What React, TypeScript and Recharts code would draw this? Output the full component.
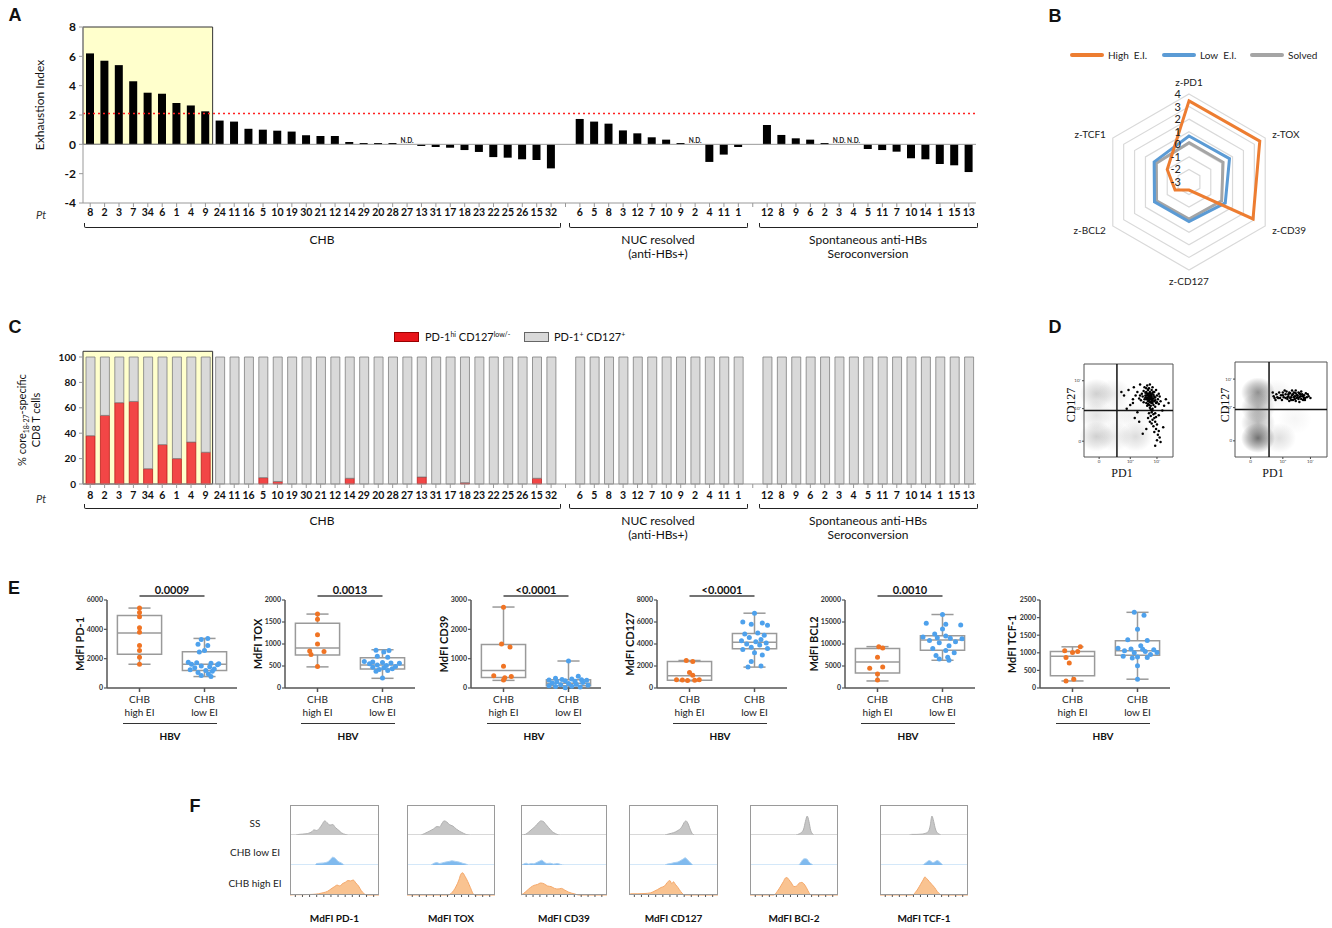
import React from 'react';
import {
  ComposedChart, Bar, XAxis, YAxis, ReferenceArea, ReferenceLine, Scatter, ScatterChart,
  RadarChart, Radar, PolarGrid, PolarAngleAxis, PolarRadiusAxis, AreaChart, Area,
} from 'recharts';

const FONT = 'Lato, "Open Sans", Arial, sans-serif';
const HEAD = '"Liberation Sans", Arial, sans-serif';
const SERIF = '"Liberation Serif", "DejaVu Serif", serif';

// ---------- Panel A / C data ----------
const chbPatients = ['8','2','3','7','34','6','1','4','9','24','11','16','5','10','19','30','21','12','14','29','20','28','27','13','31','17','18','23','22','25','26','15','32'];
const nucPatients = ['6','5','8','3','12','7','10','9','2','4','11','1'];
const spontPatients = ['12','8','9','6','2','3','4','5','11','7','10','14','1','15','13'];
const chbEI = [6.2,5.7,5.4,4.3,3.52,3.45,2.82,2.65,2.25,1.62,1.55,1.06,1.0,0.93,0.87,0.62,0.57,0.57,0.16,0.09,0.09,0.09,null,-0.11,-0.18,-0.23,-0.39,-0.52,-0.87,-0.91,-1.02,-1.07,-1.64];
const nucEI = [1.73,1.55,1.41,0.95,0.75,0.48,0.32,0.09,null,-1.2,-0.7,-0.18];
const spontEI = [1.32,0.64,0.41,0.32,0.09,null,null,-0.32,-0.39,-0.5,-0.95,-1.02,-1.34,-1.43,-1.89];
const chbPD1hi = [38,54,64,65,12,31,20,33,25,0,0,0,5,2,0,0,0,0,4.5,0,0,0,0,5.5,0,0,1,0,0,0,0,4.5,0];
const nucPD1hi = [0,0,0,0,0,0,0,0,0,0,0,0];
const spontPD1hi = [0,0,0,0,0,0,0,0,0,0,0,0,0,0,0];
const yTicksA = [-4,-2,0,2,4,6,8];
const yTicksC = [0,20,40,60,80,100];
const eiThreshold = 2.1;
const ndMarkY = 0.1;

type Row = { key: string; label: string; ei: number | null; nd: number | null; hi: number | null; rest: number | null };
const groupDefs = [
  { id: 'chb', patients: chbPatients, ei: chbEI, hi: chbPD1hi },
  { id: 'nuc', patients: nucPatients, ei: nucEI, hi: nucPD1hi },
  { id: 'sp', patients: spontPatients, ei: spontEI, hi: spontPD1hi },
];
const rows: Row[] = [];
groupDefs.forEach((g, gi) => {
  if (gi > 0) rows.push({ key: `gap${gi}`, label: '', ei: null, nd: null, hi: null, rest: null });
  g.patients.forEach((p, i) => {
    const h = g.hi[i];
    rows.push({
      key: `${g.id}-${i}`, label: p, ei: g.ei[i] as number | null,
      nd: g.ei[i] === null ? ndMarkY : null,
      hi: h > 0 ? h : null, rest: 100 - h,
    });
  });
});
const labelOf: Record<string, string> = {};
rows.forEach((r) => { labelOf[r.key] = r.label; });

// ---------- Panel B data ----------
const radarAxes = ['z-PD1', 'z-TOX', 'z-CD39', 'z-CD127', 'z-BCL2', 'z-TCF1'];
const highEIz = [3.45, 3.5, 2.88, -2.36, -1.72, -1.0];
const lowEIz = [0.66, 0.72, 0.33, 0.15, 0.17, 0.2];
const solvedZ = [0.13, 0.13, 0.0, -0.05, -0.02, 0.0];
const radarRows = radarAxes.map((a, i) => ({ axis: a, high: highEIz[i], low: lowEIz[i], solved: solvedZ[i] }));

// ---------- Panel D data (PD1 %, CD127 %) ----------
const flowLeftDots = [
  [70,70],[72,68],[74,66],[76,65],[73,63],[75,62],[77,61],[71,64],[69,66],[78,67],[80,64],[72,60],[74,59],[76,58],[79,60],[68,62],[66,65],[70,58],[73,56],[75,55],[78,56],[81,58],[83,62],[82,66],[79,70],[76,72],[73,74],[70,74],[67,71],[65,68],[63,66],[62,63],[64,61],[67,59],[71,55],[74,53],[77,52],[80,54],[84,57],[86,60],[85,65],[84,68],[81,72],[77,75],[74,78],[71,77],[68,75],[60,70],[58,66],[75,68],[77,69],[72,72],[69,69],[80,61],[82,59],[73,65],[75,64],[71,62],[78,63],[76,60],
  [72,66],[74,64],[76,67],[73,61],[75,59],[77,63],[70,62],[72,57],[79,65],[74,70],[71,68],[77,58],[74,62],[73,68],[75,66],[70,66],[78,70],[76,63],[72,63],[69,64],
  [76,48],[78,46],[75,44],[79,42],[77,40],[80,38],[76,36],[82,35],[78,33],[81,30],[84,28],[79,27],[83,24],[85,21],[82,18],[86,16],[80,12],[84,45],[73,47],[72,42],[88,50],[90,55],[74,38],[70,30],[66,25],[89,32],[77,50],[80,47],[75,51],[81,43],
  [55,58],[52,56],[48,52],[60,48],[57,42],[62,38],[42,70],[45,66],[50,72],[56,75],[63,78],[55,62],[92,62],[95,58],
];
const flowRightDots = [
  [42,64],[45,66],[47,62],[50,65],[52,68],[53,63],[55,66],[57,61],[58,64],[60,67],[61,63],[62,65],[63,60],[65,64],[66,67],[67,62],[68,65],[70,63],[71,66],[72,61],[73,64],[75,65],[76,62],[78,63],[44,60],[48,68],[51,60],[54,70],[56,69],[59,59],[62,70],[64,68],[66,59],[69,68],[72,69],[74,60],[77,67],[80,64],[82,62],[46,63],[49,62],[58,66],[60,62],[63,66],[65,61],[67,65],[69,61],[70,67],[73,66],[75,62],[57,63],[61,60],[64,63],[68,63],[71,64],[74,64],[55,62],[52,65],[59,68],[66,70],[70,58],[76,60],[41,68],[43,62],[79,66],
];
const flowLeftDensity = [[14,68,0.3],[14,45,0.18],[14,22,0.3],[34,68,0.14],[34,22,0.14],[58,22,0.22],[60,45,0.08],[40,45,0.08]];
const flowRightDensity = [[25,68,0.7],[25,52,0.5],[25,36,0.45],[25,20,0.9],[48,20,0.2],[45,66,0.1],[65,40,0.06]];
const flowTicks = [17, 52, 82];
const flowTickLabels = ['0', '10³', '10⁴'];

// ---------- Panel E data ----------
const eCategories = [['CHB', 'high EI'], ['CHB', 'low EI']];
const pd1Ticks = [0, 2000, 4000, 6000];
const pd1HighVals = [5450, 5150, 4850, 4100, 3800, 2900, 2550, 2100, 1620];
const pd1HighDx = [0, 0, 0, 0, 0, 0, 0, 0, 0];
const pd1LowVals = [3380, 3300, 2980, 2900, 2560, 2450, 1750, 1720, 1680, 1650, 1620, 1580, 1500, 1450, 1380, 1300, 1250, 1200, 1150, 1050, 950, 850, 780];
const pd1LowDx = [0.05, -0.05, -0.1, 0.05, 0, -0.08, -0.25, -0.12, 0.1, 0.22, -0.2, 0.2, -0.05, 0.08, -0.15, 0.15, -0.22, 0.02, 0.12, -0.1, 0.06, -0.05, 0.1];
const pd1HighBox = [1620, 2300, 3750, 4950, 5450];
const pd1LowBox = [780, 1200, 1620, 2470, 3380];

const toxTicks = [0, 500, 1000, 1500, 2000];
const toxHighVals = [1680, 1560, 1210, 1000, 840, 830, 760, 490];
const toxHighDx = [0, 0, 0, 0, -0.12, 0.1, -0.1, 0];
const toxLowVals = [860, 850, 820, 720, 700, 600, 590, 580, 570, 560, 550, 520, 510, 490, 470, 460, 440, 420, 400, 380, 230];
const toxLowDx = [-0.1, 0.1, 0.02, -0.08, 0.08, -0.28, -0.15, 0, 0.13, 0.26, -0.2, -0.08, 0.06, 0.2, -0.15, 0.02, 0.15, -0.05, 0.08, -0.1, 0];
const toxHighBox = [480, 750, 910, 1470, 1680];
const toxLowBox = [220, 430, 520, 690, 870];

const cd39Ticks = [0, 1000, 2000, 3000];
const cd39HighVals = [2750, 1500, 1400, 740, 420, 390, 350, 270];
const cd39HighDx = [0, -0.03, 0.1, 0, -0.15, 0.12, 0.02, 0];
const cd39LowVals = [920, 400, 330, 310, 290, 280, 270, 260, 250, 230, 210, 190, 170, 150, 130, 110, 90, 80, 60, 50, 30, 10];
const cd39LowDx = [0, 0.15, -0.2, 0.05, -0.1, 0.2, -0.3, 0.28, -0.05, 0.1, -0.18, 0.22, -0.25, 0, 0.12, -0.12, 0.3, -0.3, 0.05, -0.2, 0.18, -0.05];
const cd39HighBox = [260, 360, 600, 1480, 2760];
const cd39LowBox = [0, 80, 160, 280, 920];

const cd127Ticks = [0, 2000, 4000, 6000, 8000];
const cd127HighVals = [2500, 2420, 1400, 1150, 760, 720, 690, 700, 740];
const cd127HighDx = [-0.05, 0.05, 0, 0.05, -0.2, -0.11, -0.03, 0.08, 0.15];
const cd127LowVals = [6800, 6000, 5900, 5800, 5700, 5000, 4900, 4800, 4600, 4400, 4300, 4200, 4100, 4000, 3900, 3700, 3600, 3500, 3200, 3000, 2400, 2000, 1900];
const cd127LowDx = [0, -0.18, 0.12, -0.05, 0.2, 0.05, -0.15, 0.15, -0.08, 0.1, -0.2, 0.02, 0.18, -0.12, 0.08, -0.05, 0.2, -0.18, 0, 0.12, -0.05, 0.1, -0.1];
const cd127HighBox = [650, 700, 1120, 2400, 2500];
const cd127LowBox = [1900, 3560, 4150, 4950, 6800];

const bcl2Ticks = [0, 5000, 10000, 15000, 20000];
const bcl2HighVals = [9400, 9100, 7000, 4800, 4500, 3200, 1800];
const bcl2HighDx = [0.02, 0.08, 0, 0.08, -0.12, 0, 0];
const bcl2LowVals = [16700, 14700, 14500, 14300, 13400, 12300, 11800, 11600, 11400, 11300, 11200, 10800, 10500, 10300, 9600, 9000, 8500, 8000, 7400, 7000, 6600, 6300];
const bcl2LowDx = [0, -0.25, 0.05, 0.28, 0, -0.12, 0.05, -0.3, -0.08, 0.12, 0.3, -0.2, 0.2, -0.05, 0.1, -0.15, 0.05, 0.18, -0.1, 0.08, -0.05, 0.1];
const bcl2HighBox = [1600, 3400, 5900, 9000, 9400];
const bcl2LowBox = [6300, 8600, 10900, 11900, 16700];

const tcf1Ticks = [0, 500, 1000, 1500, 2000, 2500];
const tcf1HighVals = [1170, 1060, 1040, 1010, 870, 710, 250, 200];
const tcf1HighDx = [0.12, -0.12, 0.08, 0, -0.1, -0.05, 0.02, -0.1];
const tcf1LowVals = [2150, 2070, 1670, 1370, 1350, 1200, 1130, 1110, 1100, 1085, 1060, 1040, 1010, 1000, 950, 900, 880, 870, 850, 630, 250];
const tcf1LowDx = [-0.05, 0.1, 0, -0.15, 0.15, 0.05, -0.3, -0.1, 0.08, 0.25, -0.2, 0.12, 0.3, -0.05, 0.2, -0.22, 0, 0.15, -0.08, 0, 0];
const tcf1HighBox = [200, 350, 900, 1040, 1170];
const tcf1LowBox = [250, 930, 1060, 1340, 2150];

// ---------- Panel F data (x: % of panel width, h: fraction of row height) ----------
const pd1SSHist = [[0,0],[6,0],[10,0.02],[18,0.04],[24,0.1],[27,0.17],[30,0.15],[33,0.22],[36,0.35],[39,0.47],[42,0.4],[45,0.33],[48,0.35],[51,0.25],[55,0.15],[58,0.07],[62,0.02],[66,0],[100,0]];
const pd1LowHist = [[0,0],[28,0],[30,0.05],[34,0.06],[38,0.07],[42,0.1],[45,0.17],[48,0.26],[51,0.22],[54,0.12],[57,0.08],[60,0.02],[62,0],[100,0]];
const pd1HighHist = [[0,0],[5,0.01],[15,0.01],[25,0.02],[32,0.04],[38,0.08],[42,0.12],[46,0.2],[50,0.28],[53,0.33],[56,0.3],[59,0.38],[62,0.42],[65,0.48],[68,0.47],[71,0.5],[74,0.4],[77,0.3],[80,0.15],[83,0.05],[86,0],[100,0]];
const toxSSHist = [[0,0],[15,0],[20,0.05],[25,0.12],[30,0.2],[34,0.28],[37,0.27],[40,0.4],[42,0.47],[45,0.44],[48,0.35],[52,0.3],[56,0.2],[60,0.12],[64,0.06],[68,0.01],[72,0],[100,0]];
const toxLowHist = [[0,0],[27,0],[30,0.05],[34,0.08],[37,0.05],[40,0.07],[44,0.1],[48,0.12],[51,0.14],[55,0.12],[59,0.1],[63,0.06],[67,0.03],[70,0],[100,0]];
const toxHighHist = [[0,0],[47,0],[50,0.05],[53,0.15],[56,0.3],[59,0.5],[61,0.68],[63,0.74],[66,0.62],[69,0.45],[72,0.25],[75,0.05],[77,0],[100,0]];
const cd39SSHist = [[0,0],[5,0.02],[9,0.1],[13,0.2],[17,0.3],[20,0.4],[23,0.47],[26,0.45],[29,0.35],[32,0.25],[35,0.15],[38,0.08],[42,0.02],[46,0],[100,0]];
const cd39LowHist = [[0,0],[3,0.03],[6,0.06],[9,0.03],[12,0.05],[15,0.04],[18,0.08],[21,0.12],[24,0.16],[27,0.1],[30,0.05],[34,0.06],[38,0.03],[42,0.05],[46,0.02],[50,0],[100,0]];
const cd39HighHist = [[0,0],[3,0.05],[7,0.15],[11,0.25],[15,0.32],[19,0.35],[23,0.4],[27,0.37],[31,0.3],[35,0.28],[39,0.22],[43,0.2],[47,0.22],[51,0.16],[55,0.1],[59,0.06],[63,0.03],[67,0],[100,0]];
const cd127SSHist = [[0,0],[40,0],[44,0.03],[48,0.06],[52,0.1],[55,0.15],[58,0.22],[60,0.3],[62,0.42],[64,0.47],[66,0.4],[68,0.25],[70,0.1],[72,0.02],[74,0],[100,0]];
const cd127LowHist = [[0,0],[40,0],[43,0.03],[47,0.05],[51,0.08],[55,0.1],[58,0.15],[61,0.2],[63,0.24],[65,0.2],[67,0.13],[70,0.05],[72,0],[100,0]];
const cd127HighHist = [[0,0],[2,0.04],[10,0.04],[18,0.05],[24,0.07],[28,0.12],[32,0.18],[36,0.25],[40,0.3],[43,0.42],[46,0.48],[48,0.38],[50,0.44],[52,0.36],[55,0.25],[58,0.12],[61,0.02],[63,0],[100,0]];
const bcl2SSHist = [[0,0],[52,0],[56,0.04],[59,0.1],[61,0.2],[63,0.45],[65,0.63],[67,0.45],[69,0.15],[71,0.04],[73,0],[100,0]];
const bcl2LowHist = [[0,0],[55,0],[57,0.05],[59,0.14],[61,0.2],[63,0.21],[65,0.19],[67,0.1],[70,0.03],[72,0],[100,0]];
const bcl2HighHist = [[0,0],[27,0],[31,0.12],[35,0.3],[38,0.45],[40,0.56],[42,0.58],[44,0.52],[47,0.4],[50,0.28],[53,0.3],[56,0.4],[59,0.42],[61,0.38],[64,0.25],[67,0.08],[69,0.01],[71,0],[100,0]];
const tcf1SSHist = [[0,0],[33,0],[36,0.02],[42,0.02],[48,0.03],[52,0.06],[55,0.12],[57,0.3],[59,0.63],[61,0.45],[63,0.2],[65,0.08],[68,0.02],[70,0],[100,0]];
const tcf1LowHist = [[0,0],[48,0],[51,0.05],[54,0.12],[56,0.15],[58,0.12],[60,0.08],[62,0.1],[65,0.15],[67,0.12],[70,0.04],[72,0],[100,0]];
const tcf1HighHist = [[0,0],[37,0],[40,0.08],[43,0.2],[46,0.35],[49,0.5],[51,0.6],[53,0.55],[56,0.45],[59,0.35],[62,0.25],[65,0.12],[68,0.03],[70,0],[100,0]];
const histRowNames = ['SS', 'CHB low EI', 'CHB high EI'];

// ---------- helpers ----------
const Txt = ({ x, y, children, size = 12, weight = 400, anchor = 'middle', italic = false, family = FONT, color = '#111' }: any) => (
  <div style={{
    position: 'absolute', left: x, top: y,
    transform: `translate(${anchor === 'middle' ? '-50%' : anchor === 'end' ? '-100%' : '0'}, -50%)`,
    fontSize: size, fontWeight: weight, fontStyle: italic ? 'italic' : 'normal', fontFamily: family,
    whiteSpace: 'nowrap', lineHeight: 1.1, color,
  }}>{children}</div>
);
const VTxt = ({ x, y, children, size = 12, weight = 400, family = FONT }: any) => (
  <div style={{
    position: 'absolute', left: x, top: y, transform: 'translate(-50%, -50%) rotate(-90deg)',
    fontSize: size, fontWeight: weight, fontFamily: family, whiteSpace: 'nowrap', lineHeight: 1.15,
    color: '#111', textAlign: 'center',
  }}>{children}</div>
);
const Bracket = ({ x1, x2, y }: any) => (
  <div style={{
    position: 'absolute', left: x1, top: y - 5, width: x2 - x1, height: 5,
    borderLeft: '1.5px solid #222', borderRight: '1.5px solid #222', borderBottom: '1.5px solid #222',
    borderRadius: '0 0 2px 2px', boxSizing: 'border-box',
  }} />
);
const PanelLetter = ({ x, y, children }: any) => (
  <Txt x={x} y={y} size={18} weight={700} family={HEAD}>{children}</Txt>
);

const NDShape = (p: any) => {
  if (!p || !p.payload || p.payload.nd == null || !Number.isFinite(p.cy)) return <g />;
  return <text x={p.cx} y={p.cy} textAnchor="middle" fontSize={6.5} fontWeight={700} fill="#222" fontFamily={FONT}>N.D.</text>;
};

const catTickStyle = { fontSize: 10.5, fontWeight: 700, fill: '#111', fontFamily: FONT };

function GroupAnnotations({ yBr, yLab }: any) {
  return (
    <>
      <Bracket x1={84} x2={561} y={yBr} />
      <Bracket x1={569} x2={748} y={yBr} />
      <Bracket x1={759} x2={978} y={yBr} />
      <Txt x={322} y={yLab} size={12}>CHB</Txt>
      <Txt x={658} y={yLab} size={12}>NUC resolved</Txt>
      <Txt x={658} y={yLab + 14} size={12}>(anti-HBs+)</Txt>
      <Txt x={868} y={yLab} size={12}>Spontaneous anti-HBs</Txt>
      <Txt x={868} y={yLab + 14} size={12}>Seroconversion</Txt>
    </>
  );
}

function PanelA() {
  return (
    <>
      <div style={{ position: 'absolute', left: 0, top: 0 }}>
        <ComposedChart width={1000} height={260} data={rows} margin={{ top: 27, right: 24, bottom: 37, left: 43 }}>
          <ReferenceArea x1="chb-0" x2="chb-8" y1={0} y2={8} fill="#FFFFCC" fillOpacity={1} stroke="#333" strokeWidth={1} ifOverflow="visible" />
          <XAxis dataKey="key" interval={0} tickFormatter={(v: any) => labelOf[v] ?? ''} height={20} tickSize={4} tickMargin={2}
            tick={catTickStyle} axisLine={{ stroke: '#999' }} tickLine={{ stroke: '#999' }} />
          <YAxis domain={[-4, 8]} ticks={yTicksA} width={40} tickSize={4} tickMargin={3} interval={0}
            tick={{ fontSize: 12, fontWeight: 700, fill: '#111', fontFamily: FONT }} axisLine={{ stroke: '#999' }} tickLine={{ stroke: '#999' }} />
          <ReferenceLine y={0} stroke="#999" strokeWidth={1} />
          <ReferenceLine y={eiThreshold} stroke="#ff2020" strokeDasharray="2 3" strokeWidth={1.5} />
          <Bar dataKey="ei" fill="#000" barSize={8} isAnimationActive={false} />
          <Scatter dataKey="nd" shape={NDShape} isAnimationActive={false} />
        </ComposedChart>
      </div>
      <PanelLetter x={15} y={16}>A</PanelLetter>
      <VTxt x={40} y={105} size={12}>Exhaustion Index</VTxt>
      <Txt x={41} y={215} size={11} italic color="#333">Pt</Txt>
      <GroupAnnotations yBr={228} yLab={240} />
    </>
  );
}

function PanelC() {
  return (
    <>
      <div style={{ position: 'absolute', left: 0, top: 320 }}>
        <ComposedChart width={1000} height={240} data={rows} margin={{ top: 37, right: 24, bottom: 56, left: 43 }}>
          <ReferenceArea x1="chb-0" x2="chb-8" y1={0} y2={104.5} fill="#FFFFCC" fillOpacity={1} stroke="#333" strokeWidth={1} ifOverflow="visible" />
          <XAxis dataKey="key" interval={0} tickFormatter={(v: any) => labelOf[v] ?? ''} height={20} tickSize={4} tickMargin={4}
            tick={catTickStyle} axisLine={{ stroke: '#999' }} tickLine={{ stroke: '#999' }} />
          <YAxis domain={[0, 100]} ticks={yTicksC} width={40} tickSize={4} tickMargin={3} interval={0}
            tick={{ fontSize: 10, fontWeight: 700, fill: '#111', fontFamily: FONT }} axisLine={{ stroke: '#999' }} tickLine={{ stroke: '#999' }} />
          <Bar dataKey="hi" stackId="s" fill="#F24646" stroke="#B01010" strokeWidth={0.7} barSize={9} isAnimationActive={false} />
          <Bar dataKey="rest" stackId="s" fill="#D9D9D9" stroke="#7F7F7F" strokeWidth={0.8} barSize={9} isAnimationActive={false} />
        </ComposedChart>
      </div>
      <PanelLetter x={15} y={328}>C</PanelLetter>
      <VTxt x={29} y={420} size={11}>
        <div>% core<sub style={{ fontSize: 7 }}>18-27</sub>-specific</div>
        <div>CD8 T cells</div>
      </VTxt>
      <Txt x={41} y={499} size={11} italic color="#333">Pt</Txt>
      <GroupAnnotations yBr={509} yLab={521} />
      <div style={{ position: 'absolute', left: 394, top: 332, width: 23, height: 8, background: '#E8141A', border: '1px solid #900' }} />
      <Txt x={425} y={337} size={11} anchor="start">PD-1<sup style={{ fontSize: 7 }}>hi</sup> CD127<sup style={{ fontSize: 7 }}>low/-</sup></Txt>
      <div style={{ position: 'absolute', left: 524, top: 332, width: 23, height: 8, background: '#D9D9D9', border: '1px solid #666' }} />
      <Txt x={554} y={337} size={11} anchor="start">PD-1<sup style={{ fontSize: 7 }}>+</sup> CD127<sup style={{ fontSize: 7 }}>+</sup></Txt>
    </>
  );
}

const RadTick = (p: any) => (
  <text x={p.x - 8} y={p.y + 4} textAnchor="end" fontSize={11} fill="#222" fontFamily={FONT}>{p.payload?.value}</text>
);

function PanelB() {
  const leg = [
    { c: '#ED7D31', t: 'High  E.I.', x: 1070 },
    { c: '#5B9BD5', t: 'Low  E.I.', x: 1162 },
    { c: '#A5A5A5', t: 'Solved', x: 1250 },
  ];
  return (
    <>
      <PanelLetter x={1055} y={17}>B</PanelLetter>
      {leg.map((l) => (
        <React.Fragment key={l.t}>
          <div style={{ position: 'absolute', left: l.x, top: 53, width: 34, height: 3.5, background: l.c, borderRadius: 2 }} />
          <Txt x={l.x + 38} y={55} size={10} anchor="start" color="#222"><span style={{ whiteSpace: 'pre' }}>{l.t}</span></Txt>
        </React.Fragment>
      ))}
      <div style={{ position: 'absolute', left: 1060, top: 70 }}>
        <RadarChart width={260} height={230} cx={129} cy={112} outerRadius={88} data={radarRows} margin={{ top: 0, right: 0, bottom: 0, left: 0 }}>
          <PolarGrid gridType="polygon" radialLines={false} stroke="#D9D9D9" strokeWidth={1.2} />
          <PolarAngleAxis dataKey="axis" tick={{ fontSize: 10, fill: '#222', fontFamily: FONT }} tickLine={false} axisLine={false} />
          <PolarRadiusAxis angle={90} domain={[-3, 4]} tickCount={8} axisLine={false} tickLine={false} tick={RadTick} />
          <Radar dataKey="solved" stroke="#A5A5A5" strokeWidth={3} fill="#fff" fillOpacity={0} dot={false} isAnimationActive={false} />
          <Radar dataKey="low" stroke="#5B9BD5" strokeWidth={3} fill="#fff" fillOpacity={0} dot={false} isAnimationActive={false} />
          <Radar dataKey="high" stroke="#ED7D31" strokeWidth={3} fill="#fff" fillOpacity={0} dot={false} isAnimationActive={false} />
        </RadarChart>
      </div>
    </>
  );
}

function FlowPlot({ left, top, w, h, dots, density, gid, vx, hy }: any) {
  const pts = dots.map(([x, y]: number[]) => ({ x, y }));
  const blobs = density.map(([x, y, d]: number[]) => ({ x, y, d }));
  const blobShape = (p: any) => (
    <ellipse cx={p.cx} cy={p.cy} rx={17} ry={15} fill={`url(#${gid})`} opacity={p.payload.d} />
  );
  const dotShape = (p: any) => <circle cx={p.cx} cy={p.cy} r={1.25} fill="#000" />;
  const tickProps = { fontSize: 4.5, fill: '#444', fontFamily: FONT };
  return (
    <div style={{ position: 'absolute', left: left - 16, top: top - 2 }}>
      <ScatterChart width={w + 18} height={h + 16} margin={{ top: 2, right: 2, bottom: 2, left: 2 }}>
        <defs>
          <radialGradient id={gid}>
            <stop offset="0%" stopColor="#606060" stopOpacity={1} />
            <stop offset="60%" stopColor="#606060" stopOpacity={0.45} />
            <stop offset="100%" stopColor="#606060" stopOpacity={0} />
          </radialGradient>
        </defs>
        <XAxis type="number" dataKey="x" domain={[0, 100]} ticks={flowTicks} tickFormatter={(v: any, i: number) => flowTickLabels[i]}
          height={12} tickSize={2} tickMargin={1} tick={tickProps} axisLine={false} tickLine={{ stroke: '#444' }} />
        <YAxis type="number" dataKey="y" domain={[0, 100]} ticks={flowTicks} tickFormatter={(v: any, i: number) => flowTickLabels[i]}
          width={14} tickSize={2} tickMargin={1} tick={tickProps} axisLine={false} tickLine={{ stroke: '#444' }} />
        <Scatter data={blobs} shape={blobShape} isAnimationActive={false} />
        <ReferenceArea x1={0} x2={100} y1={0} y2={100} fill="#fff" fillOpacity={0} stroke="#555" strokeWidth={1} />
        <ReferenceLine x={vx} stroke="#111" strokeWidth={1.5} />
        <ReferenceLine y={hy} stroke="#111" strokeWidth={1.5} />
        <Scatter data={pts} shape={dotShape} isAnimationActive={false} />
      </ScatterChart>
    </div>
  );
}

function PanelD() {
  return (
    <>
      <PanelLetter x={1055} y={328}>D</PanelLetter>
      <FlowPlot left={1084} top={364} w={89} h={93} dots={flowLeftDots} density={flowLeftDensity} gid="blobL" vx={37} hy={50} />
      <FlowPlot left={1235} top={362} w={92} h={95} dots={flowRightDots} density={flowRightDensity} gid="blobR" vx={37} hy={50} />
      <VTxt x={1072} y={405} size={12} family={SERIF}>CD127</VTxt>
      <VTxt x={1226} y={405} size={12} family={SERIF}>CD127</VTxt>
      <Txt x={1122} y={474} size={12} family={SERIF}>PD1</Txt>
      <Txt x={1273} y={474} size={12} family={SERIF}>PD1</Txt>
    </>
  );
}

const CatTick = (p: any) => {
  const lines = eCategories[Math.round(p.payload.value) - 1] || ['', ''];
  return (
    <text x={p.x} y={p.y} textAnchor="middle" fontSize={10} fill="#222" fontFamily={FONT}>
      <tspan x={p.x} dy={9}>{lines[0]}</tspan>
      <tspan x={p.x} dy={13}>{lines[1]}</tspan>
    </text>
  );
};

function BoxPanel({ x0, title, yMax, ticks, p, hv, hdx, lv, ldx, hb, lb, yw }: any) {
  const high = hv.map((v: number, i: number) => ({ x: 1 + hdx[i], y: v }));
  const low = lv.map((v: number, i: number) => ({ x: 2 + ldx[i], y: v }));
  const W = 0.34, C = 0.17;
  const bs = { stroke: '#9a9a9a', strokeWidth: 1.5, ifOverflow: 'visible' as const };
  const box = (c: number, b: number[], k: string) => [
    <ReferenceLine key={k + 'w1'} segment={[{ x: c, y: b[3] }, { x: c, y: b[4] }]} {...bs} />,
    <ReferenceLine key={k + 'w2'} segment={[{ x: c, y: b[0] }, { x: c, y: b[1] }]} {...bs} />,
    <ReferenceLine key={k + 'c1'} segment={[{ x: c - C, y: b[4] }, { x: c + C, y: b[4] }]} {...bs} />,
    <ReferenceLine key={k + 'c2'} segment={[{ x: c - C, y: b[0] }, { x: c + C, y: b[0] }]} {...bs} />,
    <ReferenceArea key={k + 'b'} x1={c - W} x2={c + W} y1={b[1]} y2={b[3]} fill="#fff" fillOpacity={0} stroke="#9a9a9a" strokeWidth={1.5} />,
    <ReferenceLine key={k + 'm'} segment={[{ x: c - W, y: b[2] }, { x: c + W, y: b[2] }]} {...bs} />,
  ];
  const dot = (color: string) => (q: any) => <circle cx={q.cx} cy={q.cy} r={2.5} fill={color} />;
  const sigY = yMax * 1.045;
  return (
    <>
      <div style={{ position: 'absolute', left: x0 - 70, top: 570 }}>
        <ComposedChart width={220} height={160} margin={{ top: 30, right: 20, bottom: 2, left: 70 - yw }}>
          <XAxis type="number" dataKey="x" domain={[0.5, 2.5]} ticks={[1, 2]} tick={CatTick} height={40} tickSize={4} tickMargin={2}
            axisLine={{ stroke: '#555', strokeWidth: 1.5 }} tickLine={{ stroke: '#555', strokeWidth: 1.5 }} allowDataOverflow />
          <YAxis type="number" dataKey="y" domain={[0, yMax]} ticks={ticks} interval={0} width={yw} tickSize={3} tickMargin={1}
            tick={{ fontSize: 7, fontWeight: 700, fill: '#333', fontFamily: FONT }}
            axisLine={{ stroke: '#555', strokeWidth: 1.5 }} tickLine={{ stroke: '#555', strokeWidth: 1.2 }}
            label={{ value: title, angle: -90, position: 'center', fontSize: 11, fontWeight: 700, fill: '#111', fontFamily: FONT }} />
          {box(1, hb, 'h')}
          {box(2, lb, 'l')}
          {p ? (
            <ReferenceLine segment={[{ x: 1, y: sigY }, { x: 2, y: sigY }]} stroke="#444" strokeWidth={1.5} ifOverflow="visible"
              label={{ value: p, position: 'top', offset: 2, fontSize: 11, fontWeight: 700, fill: '#111', fontFamily: FONT }} />
          ) : null}
          <Scatter data={high} shape={dot('#F07424')} isAnimationActive={false} />
          <Scatter data={low} shape={dot('#4EA1EC')} isAnimationActive={false} />
        </ComposedChart>
      </div>
      <div style={{ position: 'absolute', left: x0 + 16, top: 723, width: 94, borderTop: '1px solid #333' }} />
      <Txt x={x0 + 63} y={736} size={10} weight={700}>HBV</Txt>
    </>
  );
}

const ePanels = [
  { x0: 107, yw: 54, title: 'MdFI PD-1', yMax: 6000, ticks: pd1Ticks, p: '0.0009', hv: pd1HighVals, hdx: pd1HighDx, lv: pd1LowVals, ldx: pd1LowDx, hb: pd1HighBox, lb: pd1LowBox },
  { x0: 285, yw: 54, title: 'MdFI TOX', yMax: 2000, ticks: toxTicks, p: '0.0013', hv: toxHighVals, hdx: toxHighDx, lv: toxLowVals, ldx: toxLowDx, hb: toxHighBox, lb: toxLowBox },
  { x0: 471, yw: 54, title: 'MdFI CD39', yMax: 3000, ticks: cd39Ticks, p: '<0.0001', hv: cd39HighVals, hdx: cd39HighDx, lv: cd39LowVals, ldx: cd39LowDx, hb: cd39HighBox, lb: cd39LowBox },
  { x0: 657, yw: 54, title: 'MdFI CD127', yMax: 8000, ticks: cd127Ticks, p: '<0.0001', hv: cd127HighVals, hdx: cd127HighDx, lv: cd127LowVals, ldx: cd127LowDx, hb: cd127HighBox, lb: cd127LowBox },
  { x0: 845, yw: 62, title: 'MdFI BCL2', yMax: 20000, ticks: bcl2Ticks, p: '0.0010', hv: bcl2HighVals, hdx: bcl2HighDx, lv: bcl2LowVals, ldx: bcl2LowDx, hb: bcl2HighBox, lb: bcl2LowBox },
  { x0: 1040, yw: 56, title: 'MdFI TCF-1', yMax: 2500, ticks: tcf1Ticks, p: '', hv: tcf1HighVals, hdx: tcf1HighDx, lv: tcf1LowVals, ldx: tcf1LowDx, hb: tcf1HighBox, lb: tcf1LowBox },
];

function HistRow({ curve, top, w, fill, stroke, axis }: any) {
  const data = curve.map(([x, h]: number[]) => ({ x, h }));
  return (
    <div style={{ position: 'absolute', left: 0, top }}>
      <AreaChart width={w} height={axis ? 37 : 30} data={data} margin={{ top: 0, right: 0, bottom: 0, left: 0 }}>
        <XAxis type="number" dataKey="x" domain={[0, 100]} hide={!axis} height={7} ticks={[6, 14, 22, 30, 38, 46, 54, 62, 70, 78, 86, 94]}
          tickFormatter={() => ''} tickSize={2} axisLine={false} tickLine={{ stroke: '#555' }} />
        <YAxis domain={[0, 1]} hide />
        <Area type="monotone" dataKey="h" stroke={stroke} strokeWidth={1} fill={fill} fillOpacity={1} isAnimationActive={false} dot={false} />
      </AreaChart>
    </div>
  );
}

const fPanels = [
  { left: 290, w: 89, name: 'MdFI PD-1', ss: pd1SSHist, lo: pd1LowHist, hi: pd1HighHist },
  { left: 407, w: 88, name: 'MdFI TOX', ss: toxSSHist, lo: toxLowHist, hi: toxHighHist },
  { left: 521, w: 86, name: 'MdFI CD39', ss: cd39SSHist, lo: cd39LowHist, hi: cd39HighHist },
  { left: 629, w: 89, name: 'MdFI CD127', ss: cd127SSHist, lo: cd127LowHist, hi: cd127HighHist },
  { left: 750, w: 88, name: 'MdFI BCl-2', ss: bcl2SSHist, lo: bcl2LowHist, hi: bcl2HighHist },
  { left: 880, w: 88, name: 'MdFI TCF-1', ss: tcf1SSHist, lo: tcf1LowHist, hi: tcf1HighHist },
];

function PanelF() {
  return (
    <>
      <PanelLetter x={195} y={807}>F</PanelLetter>
      {histRowNames.map((n, i) => (
        <Txt key={n} x={255} y={[823, 852, 883][i]} size={10} color="#222">{n}</Txt>
      ))}
      {fPanels.map((f) => (
        <React.Fragment key={f.name}>
          <div style={{ position: 'absolute', left: f.left, top: 805, width: f.w, height: 90 }}>
            <HistRow curve={f.ss} top={0} w={f.w} fill="#C6C6C6" stroke="#B0B0B0" />
            <HistRow curve={f.lo} top={30} w={f.w} fill="#80BAEE" stroke="#A9D0F3" />
            <HistRow curve={f.hi} top={60} w={f.w} fill="#F9C391" stroke="#F5A86A" axis />
            <div style={{ position: 'absolute', left: 0, top: 0, width: f.w, height: 90, border: '1px solid #9a9a9a', boxSizing: 'border-box' }} />
          </div>
          <Txt x={f.left + f.w / 2} y={918} size={10} weight={700}>{f.name}</Txt>
        </React.Fragment>
      ))}
    </>
  );
}

export default function App() {
  return (
    <div style={{ position: 'absolute', left: 0, top: 0, width: 1332, height: 928, background: '#fff', overflow: 'hidden', fontFamily: FONT }}>
      <PanelA />
      <PanelB />
      <PanelC />
      <PanelD />
      <PanelLetter x={14} y={589}>E</PanelLetter>
      {ePanels.map((e) => <BoxPanel key={e.title} {...e} />)}
      <PanelF />
    </div>
  );
}
